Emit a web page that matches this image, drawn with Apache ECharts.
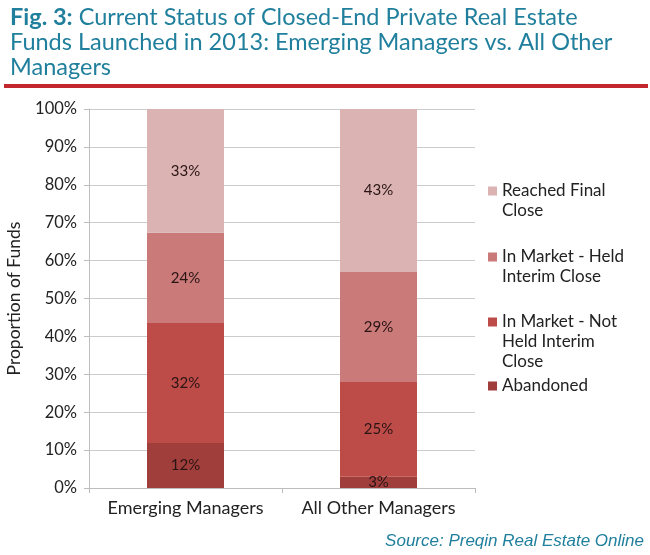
<!DOCTYPE html>
<html>
<head>
<meta charset="utf-8">
<script src="https://cdn.jsdelivr.net/npm/echarts@6/dist/echarts.min.js"></script>
<style>
html,body{margin:0;padding:0;background:#fff;}
#chart{width:650px;height:555px;}
</style>
</head>
<body>
<div id="chart"></div>
<script>
const categories = ['Emerging Managers', 'All Other Managers'];
const seriesNames = ['Abandoned', 'In Market - Not Held Interim Close', 'In Market - Held Interim Close', 'Reached Final Close'];
const abandoned = [12, 3];
const notHeld = [32, 25];
const held = [24, 29];
const finalClose = [33, 43];
const yTicks = [0, 10, 20, 30, 40, 50, 60, 70, 80, 90, 100];

const raw = [abandoned, notHeld, held, finalClose];
const colors = ['#a03e3c', '#bd4c49', '#c97a79', '#dbb3b3'];
const totals = categories.map((c, i) => raw.reduce((s, arr) => s + arr[i], 0));

const FONT = 'Lato';
const TEAL = '#1f7f9c';

const chart = echarts.init(document.getElementById('chart'), null, {renderer: 'canvas'});

const series = raw.map((arr, k) => ({
  name: seriesNames[k],
  type: 'bar',
  stack: 'total',
  barWidth: 77,
  itemStyle: {color: colors[k]},
  data: arr.map((v, i) => ({value: v / totals[i] * 100, raw: v})),
  label: {
    show: true,
    position: 'inside',
    color: '#2a1414',
    fontFamily: FONT,
    fontSize: 15,
    formatter: p => p.data.raw + '%'
  },
  emphasis: {disabled: true}
}));

// legend items: [name, text lines, icon center y]
const legendItems = [
  ['Reached Final Close', ['Reached Final', 'Close'], 191],
  ['In Market - Held Interim Close', ['In Market - Held', 'Interim Close'], 257],
  ['In Market - Not Held Interim Close', ['In Market - Not', 'Held Interim', 'Close'], 322],
  ['Abandoned', ['Abandoned'], 386]
];
const LH = 20;
const legends = legendItems.map(([name, lines, cy]) => {
  const n = lines.length;
  // pad with empty lines above so the first line sits level with the icon
  const text = new Array(n - 1).fill(' ').concat(lines).join('\n');
  const H = (2 * n - 1) * LH;
  return {
    data: [name],
    orient: 'vertical',
    left: 488,
    top: cy - H / 2,
    padding: 0,
    itemWidth: 9,
    itemHeight: 9,
    itemGap: 0,
    icon: 'rect',
    selectedMode: false,
    formatter: () => text,
    textStyle: {
      fontFamily: FONT,
      fontSize: 17,
      color: '#222',
      lineHeight: LH
    }
  };
});

chart.setOption({
  animation: false,
  title: {
    left: 5,
    top: 0,
    text: '{b|Fig. 3:} Current Status of Closed-End Private Real Estate\nFunds Launched in 2013: Emerging Managers vs. All Other\nManagers',
    textStyle: {
      fontFamily: FONT,
      fontSize: 23.5,
      fontWeight: 'normal',
      color: TEAL,
      lineHeight: 25,
      rich: {
        b: {fontFamily: FONT, fontSize: 23.5, fontWeight: 'bold', color: TEAL, lineHeight: 25}
      }
    }
  },
  legend: legends,
  grid: {left: 89, right: 175, top: 109, bottom: 67, containLabel: false, outerBoundsMode: 'none'},
  xAxis: {
    type: 'category',
    data: categories,
    axisLine: {lineStyle: {color: '#bdbdbd'}},
    axisTick: {show: true, length: 5, lineStyle: {color: '#bdbdbd'}},
    axisLabel: {fontFamily: FONT, fontSize: 18, color: '#222', margin: 11, interval: 0}
  },
  yAxis: {
    type: 'value',
    min: 0,
    max: 100,
    interval: 10,
    name: 'Proportion of Funds',
    nameLocation: 'middle',
    nameGap: 66,
    nameTextStyle: {fontFamily: FONT, fontSize: 17.5, color: '#222'},
    axisLine: {show: true, lineStyle: {color: '#bdbdbd'}},
    axisTick: {show: true, length: 5, lineStyle: {color: '#bdbdbd'}},
    axisLabel: {
      fontFamily: FONT, fontSize: 16.5, color: '#222', margin: 12,
      formatter: v => yTicks.includes(v) ? v + '%' : ''
    },
    splitLine: {lineStyle: {color: '#cccccc'}}
  },
  series: series,
  graphic: [
    {
      type: 'rect',
      shape: {x: 4, y: 84, width: 644, height: 4},
      style: {fill: '#c1272d'}
    },
    {
      type: 'text',
      right: 6,
      top: 533,
      style: {
        text: 'Source: Preqin Real Estate Online',
        fontFamily: 'Liberation Sans',
        fontStyle: 'italic',
        fontSize: 17,
        fill: TEAL
      }
    }
  ]
});
</script>
</body>
</html>
